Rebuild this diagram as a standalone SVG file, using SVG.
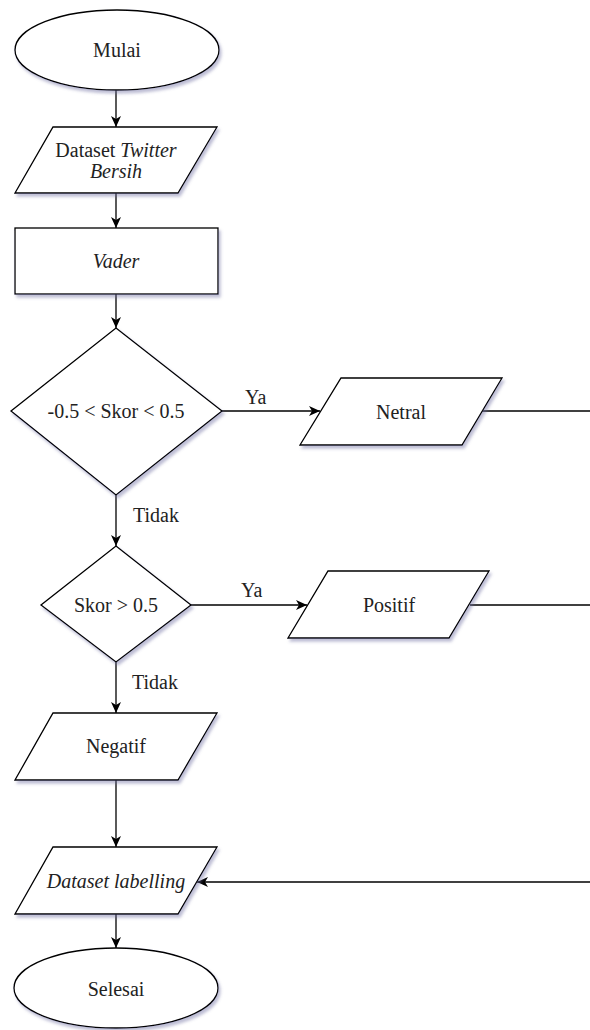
<svg xmlns="http://www.w3.org/2000/svg" width="590" height="1030" viewBox="0 0 590 1030">
<defs>
<filter id="sh" x="-10%" y="-10%" width="130%" height="130%">
<feDropShadow dx="2" dy="3" stdDeviation="1.5" flood-color="#7070a0" flood-opacity="0.45"/>
</filter>
<marker id="ah" markerUnits="userSpaceOnUse" markerWidth="12" markerHeight="10" refX="11" refY="5" orient="auto" viewBox="0 0 12 10">
<path d="M0,0 L11,5 L0,10 L3,5 Z" fill="#000"/>
</marker>
<style>
.s{fill:#fff;stroke:#000;stroke-width:1.3;filter:url(#sh)}
text{font-family:'Liberation Serif','Times New Roman',Times,'DejaVu Serif',serif;font-size:20px;fill:#222}
.t{text-anchor:middle;dominant-baseline:central}
.l{dominant-baseline:central}
.c{fill:none;stroke:#000;stroke-width:1.3}
.i{font-style:italic}
</style>
</defs>
<g id="connectors">
<line class="c" x1="116" y1="90" x2="116" y2="127" marker-end="url(#ah)"/>
<line class="c" x1="116" y1="193" x2="116" y2="228" marker-end="url(#ah)"/>
<line class="c" x1="116" y1="294" x2="116" y2="328" marker-end="url(#ah)"/>
<line class="c" x1="222" y1="411" x2="320" y2="411" marker-end="url(#ah)"/>
<line class="c" x1="482" y1="411" x2="590" y2="411"/>
<line class="c" x1="116" y1="495" x2="116" y2="546" marker-end="url(#ah)"/>
<line class="c" x1="191" y1="605" x2="307" y2="605" marker-end="url(#ah)"/>
<line class="c" x1="470" y1="605" x2="590" y2="605"/>
<line class="c" x1="116" y1="662" x2="116" y2="713" marker-end="url(#ah)"/>
<line class="c" x1="116" y1="780" x2="116" y2="847" marker-end="url(#ah)"/>
<line class="c" x1="590" y1="882" x2="197" y2="882" marker-end="url(#ah)"/>
<line class="c" x1="116" y1="914" x2="116" y2="948" marker-end="url(#ah)"/>
<text class="l" x="245" y="397">Ya</text>
<text class="l" x="241" y="590">Ya</text>
<text class="l" x="133" y="515">Tidak</text>
<text class="l" x="132" y="682">Tidak</text>
</g>
<g id="mulai">
<ellipse class="s" cx="117" cy="50" rx="102" ry="40"/>
<text class="t" x="117" y="50">Mulai</text>
</g>
<g id="dataset-twitter">
<polygon class="s" points="53,127 217,127 178,193 15,193"/>
<text class="t" x="116" y="150">Dataset <tspan class="i">Twitter</tspan></text>
<text class="t i" x="116" y="171">Bersih</text>
</g>
<g id="vader">
<rect class="s" x="15" y="228" width="203" height="66"/>
<text class="t i" x="116" y="261">Vader</text>
</g>
<g id="decision1">
<polygon class="s" points="116,328 222,411 116,495 11,411"/>
<text class="t" x="116" y="411">-0.5 &lt; Skor &lt; 0.5</text>
</g>
<g id="netral">
<polygon class="s" points="341,378 502,378 462,445 300,445"/>
<text class="t" x="401" y="412">Netral</text>
</g>
<g id="decision2">
<polygon class="s" points="116,546 191,605 116,662 41,605"/>
<text class="t" x="116" y="605">Skor &gt; 0.5</text>
</g>
<g id="positif">
<polygon class="s" points="328,571 489,571 449,638 288,638"/>
<text class="t" x="389" y="605">Positif</text>
</g>
<g id="negatif">
<polygon class="s" points="53,713 217,713 178,780 15,780"/>
<text class="t" x="116" y="746">Negatif</text>
</g>
<g id="dataset-labelling">
<polygon class="s" points="53,847 217,847 178,914 15,914"/>
<text class="t i" x="116" y="881">Dataset labelling</text>
</g>
<g id="selesai">
<ellipse class="s" cx="116" cy="988" rx="102" ry="40"/>
<text class="t" x="116" y="989">Selesai</text>
</g>
</svg>
